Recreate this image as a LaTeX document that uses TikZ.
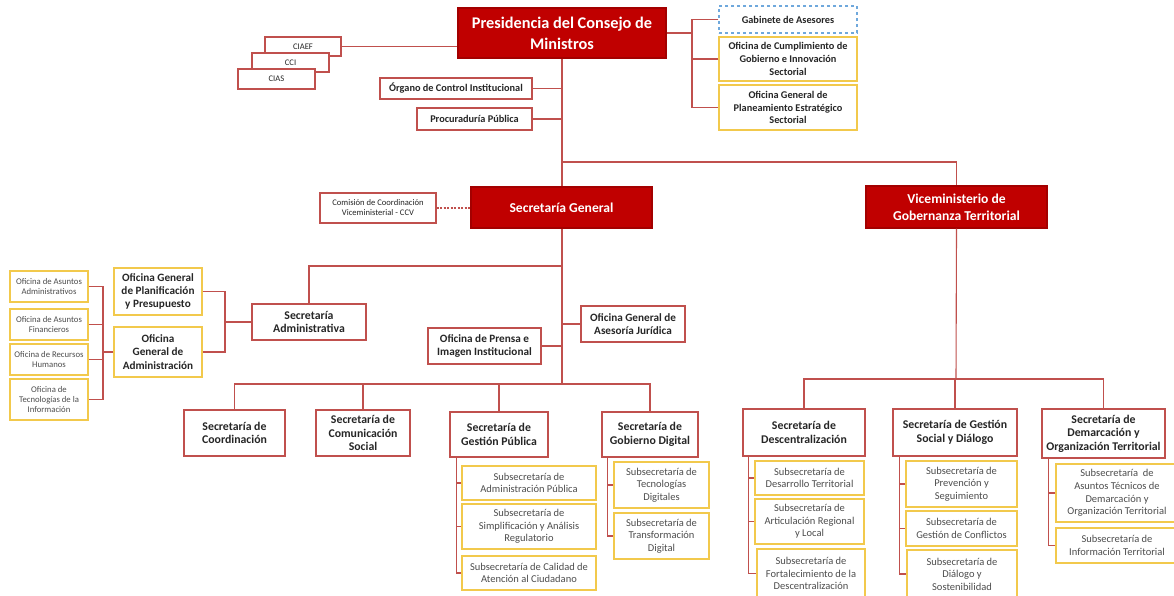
\documentclass[tikz,border=0pt]{standalone}
\usepackage{fontspec}
\setmainfont{Carlito}
\definecolor{rfill}{HTML}{C00000}
\definecolor{rline}{HTML}{C0504D}
\definecolor{gold}{HTML}{F2C94C}
\definecolor{bdash}{HTML}{6FA8DC}
\definecolor{txt}{HTML}{262626}
\definecolor{stxt}{HTML}{4D4D4D}
\tikzset{
  base/.style={inner sep=0pt, align=center, line width=1.1pt},
  redmain/.style={base, fill=rfill, draw=rfill!85!black, text=white},
  redbox/.style={base, draw=rline, fill=white, text=txt},
  goldbox/.style={base, draw=gold, fill=white, text=txt},
  bluebox/.style={base, draw=bdash, dashed, fill=white, text=txt},
  conn/.style={draw=rline, line width=1.1pt},
  fXL/.style={font=\fontsize{16.3}{21}\selectfont\bfseries},
  fL/.style={font=\fontsize{13.6}{17}\selectfont\bfseries},
  fM/.style={font=\fontsize{11.8}{13.6}\selectfont\bfseries},
  fMb/.style={font=\fontsize{11.2}{13.2}\selectfont\bfseries},
  fS/.style={font=\fontsize{10.3}{12.8}\selectfont\bfseries},
  fSub/.style={font=\fontsize{10.5}{12.6}\selectfont},
  fXS/.style={font=\fontsize{8.7}{10.2}\selectfont},
  fT/.style={font=\fontsize{8.6}{10}\selectfont},
}
\newcommand\bx[7]{\node[#1, minimum width={(#4-#2)*1pt}, minimum height={(#5-#3)*1pt}] (#6) at ({(#2+#4)/2},{(#3+#5)/2}) {#7};}
\begin{document}
\begin{tikzpicture}[x=1pt,y=-1pt]
\useasboundingbox (0,0) rectangle (1174,595);
\fill[white] (0,0) rectangle (1174,595);
% top
\bx{redmain,fXL}{458}{8}{666}{58}{pcm}{Presidencia del Consejo de\\Ministros}
\bx{redbox,fT}{265}{37}{341}{56}{ciaef}{CIAEF}
\bx{redbox,fT}{252}{53}{329}{72}{cci}{CCI}
\bx{redbox,fT}{238}{69}{315}{89}{cias}{CIAS}
\bx{redbox,fS}{380}{78}{532}{99}{oci}{Órgano de Control Institucional}
\bx{redbox,fS}{417}{108}{532}{130}{proc}{Procuraduría Pública}
\bx{bluebox,fS}{719}{6}{857}{33}{gab}{Gabinete de Asesores}
\bx{goldbox,fS}{719}{37}{857}{81}{ocgis}{Oficina de Cumplimiento de\\Gobierno e Innovación\\Sectorial}
\bx{goldbox,fS}{719}{85}{857}{130}{ogpes}{Oficina General de\\Planeamiento Estratégico\\Sectorial}
% second level
\bx{redmain,fL}{471}{187}{652}{228}{sg}{Secretaría General}
\bx{redbox,fT}{320}{193}{436}{223}{ccv}{Comisión de Coordinación\\Viceministerial - CCV}
\bx{redmain,fL}{866}{186}{1047}{228}{vm}{Viceministerio de\\Gobernanza Territorial}
% administrative
\bx{redbox,fM}{252}{304}{366}{340}{sa}{Secretaría\\Administrativa}
\bx{goldbox,fMb}{114}{268}{202}{315}{ogpp}{Oficina General\\de Planificación\\y Presupuesto}
\bx{goldbox,fMb}{114}{327}{202}{377}{oga}{Oficina\\General de\\Administración}
\bx{goldbox,fXS,text=stxt}{10}{271}{88}{302}{oaa}{Oficina de Asuntos\\Administrativos}
\bx{goldbox,fXS,text=stxt}{10}{309}{88}{340}{oaf}{Oficina de Asuntos\\Financieros}
\bx{goldbox,fXS,text=stxt}{10}{344}{88}{375}{orh}{Oficina de Recursos\\Humanos}
\bx{goldbox,fXS,text=stxt}{10}{379}{88}{420}{oti}{Oficina de\\Tecnologías de la\\Información}
\bx{redbox,fMb}{581}{306}{685}{342}{ogaj}{Oficina General de\\Asesoría Jurídica}
\bx{redbox,fMb}{428}{328}{541}{364}{prensa}{Oficina de Prensa e\\Imagen Institucional}
% secretarias left
\bx{redbox,fM}{184}{410}{285}{456}{coord}{Secretaría de\\Coordinación}
\bx{redbox,fM}{316}{410}{410}{456}{com}{Secretaría de\\Comunicación\\Social}
\bx{redbox,fM}{450}{412}{548}{457}{gp}{Secretaría de\\Gestión Pública}
\bx{redbox,fM}{602}{412}{698}{457}{gd}{Secretaría de\\Gobierno Digital}
\bx{goldbox,fSub,text=stxt}{462}{466}{596}{500}{gpa}{Subsecretaría de\\Administración Pública}
\bx{goldbox,fSub,text=stxt}{462}{504}{596}{549}{gpb}{Subsecretaría de\\Simplificación y Análisis\\Regulatorio}
\bx{goldbox,fSub,text=stxt}{462}{556}{596}{590}{gpc}{Subsecretaría de Calidad de\\Atención al Ciudadano}
\bx{goldbox,fSub,text=stxt}{614}{462}{709}{508}{gda}{Subsecretaría de\\Tecnologías\\Digitales}
\bx{goldbox,fSub,text=stxt}{614}{513}{709}{559}{gdb}{Subsecretaría de\\Transformación\\Digital}
% secretarias right
\bx{redbox,fM}{743}{409}{865}{456}{desc}{Secretaría de\\Descentralización}
\bx{redbox,fM}{893}{409}{1017}{456}{gsd}{Secretaría de Gestión\\Social y Diálogo}
\bx{redbox,fM}{1042}{409}{1165}{458}{dem}{Secretaría de\\Demarcación y\\Organización Territorial}
\bx{goldbox,fSub,text=stxt}{755}{461}{864}{495}{dea}{Subsecretaría de\\Desarrollo Territorial}
\bx{goldbox,fSub,text=stxt}{755}{499}{864}{544}{deb}{Subsecretaría de\\Articulación Regional\\y Local}
\bx{goldbox,fSub,text=stxt}{757}{549}{865}{598}{dec}{Subsecretaría de\\Fortalecimiento de la\\Descentralización}
\bx{goldbox,fSub,text=stxt}{906}{461}{1017}{507}{gsa}{Subsecretaría de\\Prevención y\\Seguimiento}
\bx{goldbox,fSub,text=stxt}{906}{511}{1017}{546}{gsb}{Subsecretaría de\\Gestión de Conflictos}
\bx{goldbox,fSub,text=stxt}{907}{550}{1017}{598}{gsc}{Subsecretaría de\\Diálogo y\\Sostenibilidad}
\bx{goldbox,fSub,text=stxt}{1056}{464}{1178}{522}{dma}{Subsecretaría\ \ de\\Asuntos Técnicos de\\Demarcación y\\Organización Territorial}
\bx{goldbox,fSub,text=stxt}{1056}{528}{1178}{563}{dmb}{Subsecretaría de\\Información Territorial}
% coordinates
\coordinate (jt) at (562,162);
\coordinate (ja) at (562,266);
\coordinate (jb) at (562,384);
\coordinate (jv) at (956,379);
\coordinate (rb) at (692,0);
\coordinate (mb) at (225,0);
\coordinate (lb) at (103,0);
% connectors top
\draw[conn] (ciaef.east) -- (pcm.west |- ciaef.east);
\draw[conn] (pcm.south) -- (sg.north -| pcm.south);
\draw[conn] (oci.east) -- (oci.east -| pcm.south);
\draw[conn] (proc.east) -- (proc.east -| pcm.south);
\draw[conn] (pcm.east) -- (pcm.east -| rb);
\draw[conn] (gab.west) -- (gab.west -| rb) |- (ogpes.west);
\draw[conn] (ocgis.west) -- (ocgis.west -| rb);
\draw[conn] (jt) -| (vm.north);
\draw[conn, dashed, dash pattern=on 2pt off 1.5pt] (ccv.east) -- (sg.west |- ccv.east);
% SG subtree
\draw[conn] (sg.south -| jb) -- (jb);
\draw[conn] (ja) -| (sa.north);
\draw[conn] (ogaj.west) -- (ogaj.west -| jb);
\draw[conn] (prensa.east) -- (prensa.east -| jb);
\draw[conn] (ogpp.east) -- (ogpp.east -| mb) |- (oga.east);
\draw[conn] (sa.west) -- (sa.west -| mb);
\draw[conn] (oaa.east) -- (oaa.east -| lb) |- (oti.east);
\draw[conn] (oaf.east) -- (oaf.east -| lb);
\draw[conn] (orh.east) -- (orh.east -| lb);
\draw[conn] (oga.west) -- (oga.west -| lb);
\draw[conn] (coord.north) |- (jb) -| (gd.north);
\draw[conn] (com.north) -- (com.north |- jb);
\draw[conn] (gp.north) -- (gp.north |- jb);
\draw[conn] ([xshift=7pt]gp.south west) |- (gpc.west);
\draw[conn] ([xshift=7pt]gp.south west |- gpa.west) -- (gpa.west);
\draw[conn] ([xshift=7pt]gp.south west |- gpb.west) -- (gpb.west);
\draw[conn] ([xshift=6pt]gd.south west) |- (gdb.west);
\draw[conn] ([xshift=6pt]gd.south west |- gda.west) -- (gda.west);
% VM subtree
\draw[conn] (vm.south) -- (jv);
\draw[conn] (desc.north) |- (jv) -| (dem.north);
\draw[conn] (gsd.north) -- (gsd.north |- jv);
\draw[conn] ([xshift=6pt]desc.south west) |- (dec.west);
\draw[conn] ([xshift=6pt]desc.south west |- dea.west) -- (dea.west);
\draw[conn] ([xshift=6pt]desc.south west |- deb.west) -- (deb.west);
\draw[conn] ([xshift=7pt]gsd.south west) |- (gsc.west);
\draw[conn] ([xshift=7pt]gsd.south west |- gsa.west) -- (gsa.west);
\draw[conn] ([xshift=7pt]gsd.south west |- gsb.west) -- (gsb.west);
\draw[conn] ([xshift=7pt]dem.south west) |- (dmb.west);
\draw[conn] ([xshift=7pt]dem.south west |- dma.west) -- (dma.west);
\end{tikzpicture}
\end{document}
